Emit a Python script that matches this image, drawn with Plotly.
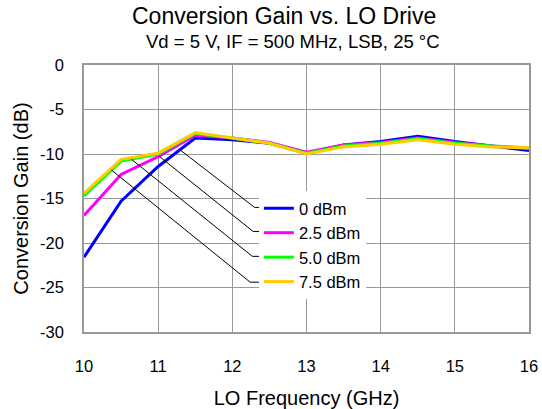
import plotly.graph_objects as go

freq_ghz = [10, 10.5, 11, 11.5, 12, 12.5, 13, 13.5, 14, 14.5, 15, 15.5, 16]
gain_0dbm = [-21.6, -15.3, -11.4, -8.2, -8.4, -8.8, -9.9, -9.0, -8.6, -8.0, -8.6, -9.1, -9.6]
gain_2p5dbm = [-16.9, -12.3, -10.3, -7.9, -8.2, -8.7, -9.8, -9.0, -8.7, -8.2, -8.7, -9.1, -9.4]
gain_5dbm = [-14.7, -10.8, -10.0, -7.7, -8.2, -8.8, -9.9, -9.1, -8.8, -8.3, -8.8, -9.1, -9.3]
gain_7p5dbm = [-14.4, -10.6, -9.9, -7.6, -8.2, -8.8, -10.0, -9.2, -8.9, -8.4, -8.9, -9.2, -9.3]
series_names = ["0 dBm", "2.5 dBm", "5.0 dBm", "7.5 dBm"]
series_values = [gain_0dbm, gain_2p5dbm, gain_5dbm, gain_7p5dbm]
series_colors = ["#0000FF", "#FF00FF", "#00FF00", "#FFCC00"]
x_ticks = [10, 11, 12, 13, 14, 15, 16]
x_tick_labels = ["10", "11", "12", "13", "14", "15", "16"]
y_ticks = [0, -5, -10, -15, -20, -25, -30]
y_tick_labels = ["0", "-5", "-10", "-15", "-20", "-25", "-30"]

FONT = "Liberation Sans, Arial, sans-serif"
GRID = "#999999"

fig = go.Figure()
for name, vals, col in zip(series_names, series_values, series_colors):
    fig.add_trace(go.Scatter(x=freq_ghz, y=vals, name=name, mode="lines",
                             line=dict(color=col, width=3), legendgroup=name))

# leader lines from legend entries to curves (data coordinates)
leaders = [
    ((11.29, -9.5), (12.30, -16.0), 12.5),
    ((11.02, -10.3), (12.28, -18.7), 12.5),
    ((10.64, -10.6), (12.27, -21.5), 12.5),
    ((10.37, -11.8), (12.24, -24.4), 12.5),
]
for (x0, y0), (x1, y1), x2 in leaders:
    fig.add_shape(type="line", xref="x", yref="y", x0=x0, y0=y0, x1=x1, y1=y1,
                  line=dict(color="black", width=1), layer="above")
    fig.add_shape(type="line", xref="x", yref="y", x0=x1, y0=y1, x1=x2, y1=y1,
                  line=dict(color="black", width=1), layer="above")

fig.add_annotation(text="Conversion Gain vs. LO Drive", xref="paper", yref="paper",
                   x=0.449, y=1.0, yanchor="middle", yshift=49, showarrow=False,
                   font=dict(family=FONT, size=23, color="black"))
fig.add_annotation(text="Vd = 5 V, IF = 500 MHz, LSB, 25 °C", xref="paper", yref="paper",
                   x=0.469, y=1.0, yanchor="middle", yshift=24, showarrow=False,
                   font=dict(family=FONT, size=18.5, color="black"))

fig.update_layout(
    width=542, height=409,
    margin=dict(l=84, r=13, t=65, b=77),
    paper_bgcolor="white", plot_bgcolor="white",
    font=dict(family=FONT, size=16.5, color="black"),
    showlegend=True,
    legend=dict(x=0.393, y=0.528, xanchor="left", yanchor="top",
                bgcolor="white", borderwidth=0, tracegroupgap=0,
                font=dict(family=FONT, size=16.5, color="black")),
    xaxis=dict(range=[10, 16], tickvals=x_ticks, ticktext=x_tick_labels,
               showgrid=True, gridcolor=GRID, automargin=False,
               gridwidth=1.3, showline=True, linecolor=GRID, linewidth=1.5, mirror=True,
               zeroline=False, ticks="", ticklabelstandoff=18,
               title=dict(text="LO Frequency (GHz)", standoff=17,
                          font=dict(family=FONT, size=20))),
    yaxis=dict(range=[-30, 0], tickvals=y_ticks, ticktext=y_tick_labels,
               showgrid=True, gridcolor=GRID, automargin=False,
               gridwidth=1.3, showline=True, linecolor=GRID, linewidth=1.5, mirror=True,
               zeroline=False, ticks="", ticklabelstandoff=15,
               title=dict(text="Conversion Gain (dB)", standoff=6,
                          font=dict(family=FONT, size=20))),
)

# remove the default 8 px page margin so the figure fills the window exactly
fig.write_html("out.html",
               config={"displayModeBar": False},
               post_script="document.body.style.margin='0px';document.body.style.overflow='hidden';")
